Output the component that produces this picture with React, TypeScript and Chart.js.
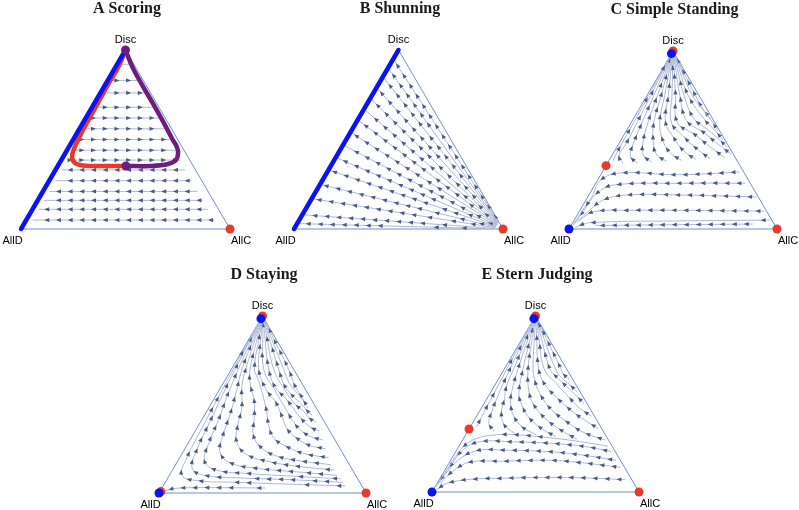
import { useEffect, useRef } from "react";
import { Chart, registerables } from "chart.js";

Chart.register(...registerables);

// A point of the simplex: [share of AllC, share of Disc]; share of AllD = 1 - both.
type Pt = [number, number];

// ---------------- A Scoring ----------------
const scoringStreams: Pt[][] = [
  [[0.01, 0.92], [0.065, 0.92]],
  [[0.015, 0.83], [0.15, 0.83]],
  [[0.02, 0.76], [0.215, 0.76]],
  [[0.02, 0.68], [0.29, 0.68]],
  [[0.025, 0.62], [0.35, 0.62]],
  [[0.025, 0.56], [0.405, 0.56]],
  [[0.03, 0.5], [0.46, 0.5]],
  [[0.03, 0.44], [0.52, 0.44]],
  [[0.03, 0.385], [0.57, 0.385]],
  [[0.62, 0.33], [0.03, 0.33]],
  [[0.68, 0.27], [0.03, 0.27]],
  [[0.74, 0.21], [0.03, 0.21]],
  [[0.79, 0.16], [0.03, 0.16]],
  [[0.84, 0.11], [0.03, 0.11]],
  [[0.9, 0.05], [0.03, 0.05]],
];
const scoringRedOrbit: Pt[] = [
  [0, 1], [0.013, 0.911], [0.013, 0.816], [0.016, 0.715], [0.018, 0.615], [0.022, 0.52],
  [0.03, 0.447], [0.043, 0.402], [0.074, 0.369], [0.12, 0.355], [0.202, 0.352], [0.326, 0.352],
];
const scoringPurpleOrbit: Pt[] = [
  [0, 1], [0.085, 0.9], [0.182, 0.8], [0.282, 0.7], [0.38, 0.6], [0.475, 0.5], [0.517, 0.458],
  [0.539, 0.425], [0.549, 0.385], [0.522, 0.363], [0.441, 0.352], [0.326, 0.352],
];
const scoringBlueEdge: Pt[] = [[0, 0], [0, 1]];
const scoringRedDots: Pt[] = [[1, 0]];
const scoringPurpleDots: Pt[] = [[0, 1], [0.326, 0.352]];

// ---------------- B Shunning ----------------
const shunningStreams: Pt[][] = [
  [[0.96, 0.001], [0.01, 0.03]],
  [[0.96, 0.003], [0.01, 0.079]],
  [[0.96, 0.007], [0.01, 0.168]],
  [[0.96, 0.01], [0.01, 0.247]],
  [[0.96, 0.013], [0.01, 0.327]],
  [[0.96, 0.016], [0.01, 0.396]],
  [[0.96, 0.019], [0.01, 0.465]],
  [[0.96, 0.022], [0.01, 0.535]],
  [[0.96, 0.024], [0.01, 0.604]],
  [[0.96, 0.027], [0.01, 0.663]],
  [[0.96, 0.029], [0.01, 0.723]],
  [[0.96, 0.032], [0.01, 0.782]],
  [[0.96, 0.034], [0.01, 0.842]],
  [[0.96, 0.036], [0.01, 0.891]],
  [[0.96, 0.038], [0.01, 0.94]],
];
const shunningBlueEdge: Pt[] = [[0, 0], [0, 1]];
const shunningRedDots: Pt[] = [[1, 0]];

// ---------------- C Simple Standing ----------------
const simpleStreams: Pt[][] = [
  [[0.02, 0.38], [0.015, 0.45], [0.012, 0.6], [0.008, 0.75], [0.003, 0.9], [0.001, 0.98]],
  [[0.075, 0.37], [0.035, 0.41], [0.035, 0.48], [0.028, 0.6], [0.018, 0.75], [0.007, 0.9], [0.0015, 0.98]],
  [[0.145, 0.37], [0.09, 0.41], [0.07, 0.48], [0.052, 0.6], [0.033, 0.75], [0.013, 0.9], [0.003, 0.98]],
  [[0.21, 0.375], [0.15, 0.415], [0.115, 0.48], [0.08, 0.6], [0.05, 0.75], [0.02, 0.9], [0.004, 0.98]],
  [[0.28, 0.38], [0.21, 0.42], [0.16, 0.49], [0.108, 0.6], [0.068, 0.75], [0.027, 0.9], [0.005, 0.98]],
  [[0.35, 0.385], [0.27, 0.43], [0.2, 0.5], [0.136, 0.6], [0.085, 0.75], [0.034, 0.9], [0.007, 0.98]],
  [[0.415, 0.39], [0.33, 0.44], [0.25, 0.51], [0.164, 0.6], [0.1025, 0.75], [0.041, 0.9], [0.008, 0.98]],
  [[0.48, 0.395], [0.39, 0.45], [0.29, 0.52], [0.192, 0.6], [0.12, 0.75], [0.048, 0.9], [0.01, 0.98]],
  [[0.55, 0.4], [0.45, 0.46], [0.34, 0.53], [0.22, 0.6], [0.1375, 0.75], [0.055, 0.9], [0.011, 0.98]],
  [[0.57, 0.42], [0.48, 0.475], [0.38, 0.54], [0.26, 0.61], [0.158, 0.75], [0.063, 0.9], [0.013, 0.98]],
  [[0.53, 0.46], [0.46, 0.51], [0.37, 0.57], [0.29, 0.62], [0.178, 0.75], [0.071, 0.9], [0.014, 0.98]],
  [[0.49, 0.5], [0.43, 0.55], [0.35, 0.61], [0.198, 0.75], [0.079, 0.9], [0.016, 0.98]],
  [[0.44, 0.55], [0.39, 0.6], [0.32, 0.66], [0.218, 0.75], [0.087, 0.9], [0.017, 0.98]],
  [[0.37, 0.62], [0.3, 0.68], [0.233, 0.75], [0.093, 0.9], [0.019, 0.98]],
  [[0.66, 0.32], [0.37, 0.305], [0.09, 0.315], [0.015, 0.275], [0.02, 0.18], [0.012, 0.09], [0.008, 0.02]],
  [[0.72, 0.257], [0.405, 0.257], [0.09, 0.247], [0.033, 0.2], [0.022, 0.125], [0.012, 0.03]],
  [[0.81, 0.18], [0.44, 0.191], [0.18, 0.191], [0.083, 0.163], [0.047, 0.107], [0.02, 0.04]],
  [[0.89, 0.1], [0.5, 0.105], [0.25, 0.105], [0.07, 0.097], [0.025, 0.05]],
  [[0.94, 0.05], [0.48, 0.045], [0.08, 0.035], [0.025, 0.01]],
  [[0.87, 0.028], [0.49, 0.024], [0.12, 0.02]],
];
const simpleRedDots: Pt[] = [[1, 0], [0, 1], [0, 0.356]];
const simpleBlueDots: Pt[] = [[0, 0], [0, 0.985]];

// ---------------- D Staying ----------------
const stayingStreams: Pt[][] = [
  [[0.5, 0.028], [0.3, 0.03], [0.15, 0.03], [0.06, 0.025], [0.015, 0.008]],
  [[0.88, 0.04], [0.6, 0.05], [0.35, 0.06], [0.15, 0.07], [0.06, 0.1], [0.035, 0.2], [0.025, 0.35], [0.018, 0.5], [0.009, 0.7], [0.003, 0.9], [0.001, 0.97]],
  [[0.86, 0.06], [0.6, 0.075], [0.35, 0.085], [0.17, 0.1], [0.09, 0.14], [0.06, 0.25], [0.045, 0.4], [0.03, 0.55], [0.018, 0.7], [0.006, 0.9], [0.002, 0.97]],
  [[0.84, 0.08], [0.6, 0.095], [0.38, 0.11], [0.21, 0.13], [0.13, 0.18], [0.1, 0.28], [0.08, 0.42], [0.055, 0.55], [0.033, 0.7], [0.011, 0.9], [0.003, 0.97]],
  [[0.81, 0.1], [0.6, 0.12], [0.4, 0.14], [0.26, 0.17], [0.18, 0.23], [0.145, 0.33], [0.12, 0.45], [0.085, 0.58], [0.051, 0.7], [0.017, 0.9], [0.005, 0.97]],
  [[0.78, 0.13], [0.6, 0.15], [0.43, 0.18], [0.31, 0.22], [0.23, 0.29], [0.19, 0.38], [0.16, 0.48], [0.1, 0.6], [0.069, 0.7], [0.023, 0.9], [0.007, 0.97]],
  [[0.75, 0.16], [0.6, 0.18], [0.46, 0.21], [0.36, 0.26], [0.29, 0.33], [0.25, 0.42], [0.2, 0.52], [0.13, 0.62], [0.09, 0.7], [0.03, 0.9], [0.009, 0.97]],
  [[0.72, 0.2], [0.6, 0.22], [0.49, 0.26], [0.4, 0.31], [0.34, 0.38], [0.29, 0.46], [0.22, 0.56], [0.16, 0.64], [0.111, 0.7], [0.037, 0.9], [0.011, 0.97]],
  [[0.68, 0.25], [0.59, 0.27], [0.51, 0.31], [0.44, 0.36], [0.38, 0.43], [0.31, 0.51], [0.22, 0.59], [0.132, 0.7], [0.044, 0.9], [0.013, 0.97]],
  [[0.64, 0.3], [0.57, 0.32], [0.5, 0.36], [0.44, 0.41], [0.37, 0.48], [0.28, 0.57], [0.156, 0.7], [0.052, 0.9], [0.016, 0.97]],
  [[0.6, 0.35], [0.55, 0.37], [0.49, 0.41], [0.43, 0.46], [0.35, 0.53], [0.26, 0.6], [0.18, 0.7], [0.06, 0.9], [0.018, 0.97]],
  [[0.56, 0.4], [0.52, 0.42], [0.47, 0.46], [0.41, 0.5], [0.33, 0.57], [0.204, 0.7], [0.068, 0.9], [0.02, 0.97]],
  [[0.52, 0.44], [0.49, 0.46], [0.44, 0.5], [0.37, 0.55], [0.3, 0.61], [0.228, 0.7], [0.076, 0.9], [0.023, 0.97]],
  [[0.48, 0.48], [0.45, 0.51], [0.39, 0.56], [0.32, 0.62], [0.252, 0.7], [0.084, 0.9], [0.025, 0.97]],
  [[0.44, 0.52], [0.41, 0.55], [0.35, 0.61], [0.276, 0.7], [0.092, 0.9], [0.028, 0.97]],
];
const stayingRedDots: Pt[] = [[1, 0], [0, 1], [0.005, 0.008]];
const stayingBlueDots: Pt[] = [[0, 0], [0, 0.985]];

// ---------------- E Stern Judging ----------------
const sternStreams: Pt[][] = [
  [[0.03, 0.37], [0.025, 0.45], [0.02, 0.55], [0.012, 0.7], [0.004, 0.9], [0.001, 0.97]],
  [[0.13, 0.345], [0.08, 0.39], [0.06, 0.46], [0.045, 0.55], [0.027, 0.7], [0.009, 0.9], [0.003, 0.97]],
  [[0.23, 0.335], [0.16, 0.38], [0.11, 0.45], [0.085, 0.53], [0.06, 0.6], [0.045, 0.7], [0.015, 0.9], [0.005, 0.97]],
  [[0.34, 0.325], [0.25, 0.37], [0.18, 0.43], [0.13, 0.5], [0.1, 0.57], [0.066, 0.7], [0.022, 0.9], [0.007, 0.97]],
  [[0.44, 0.315], [0.35, 0.36], [0.26, 0.42], [0.19, 0.49], [0.14, 0.56], [0.09, 0.7], [0.03, 0.9], [0.009, 0.97]],
  [[0.55, 0.3], [0.45, 0.35], [0.35, 0.41], [0.26, 0.48], [0.19, 0.56], [0.114, 0.7], [0.038, 0.9], [0.011, 0.97]],
  [[0.69, 0.295], [0.56, 0.34], [0.45, 0.4], [0.34, 0.47], [0.25, 0.55], [0.19, 0.62], [0.138, 0.7], [0.046, 0.9], [0.014, 0.97]],
  [[0.625, 0.36], [0.53, 0.41], [0.43, 0.47], [0.33, 0.54], [0.24, 0.61], [0.165, 0.7], [0.055, 0.9], [0.016, 0.97]],
  [[0.555, 0.43], [0.47, 0.48], [0.39, 0.54], [0.3, 0.61], [0.192, 0.7], [0.064, 0.9], [0.019, 0.97]],
  [[0.485, 0.5], [0.42, 0.55], [0.35, 0.6], [0.28, 0.65], [0.219, 0.7], [0.073, 0.9], [0.022, 0.97]],
  [[0.415, 0.57], [0.36, 0.61], [0.3, 0.65], [0.246, 0.7], [0.082, 0.9], [0.025, 0.97]],
  [[0.345, 0.64], [0.3, 0.67], [0.273, 0.7], [0.091, 0.9], [0.027, 0.97]],
  [[0.72, 0.26], [0.55, 0.29], [0.4, 0.31], [0.25, 0.325], [0.15, 0.325], [0.065, 0.305], [0.02, 0.25], [0.01, 0.15], [0.004, 0.05]],
  [[0.75, 0.23], [0.6, 0.26], [0.43, 0.277], [0.25, 0.285], [0.09, 0.286], [0.03, 0.24], [0.015, 0.15], [0.005, 0.05]],
  [[0.8, 0.18], [0.62, 0.21], [0.455, 0.229], [0.25, 0.237], [0.1, 0.235], [0.035, 0.18], [0.015, 0.1], [0.005, 0.03]],
  [[0.84, 0.14], [0.65, 0.165], [0.48, 0.18], [0.25, 0.175], [0.1, 0.17], [0.045, 0.125], [0.015, 0.05]],
  [[0.9, 0.07], [0.7, 0.08], [0.53, 0.083], [0.3, 0.078], [0.15, 0.072], [0.05, 0.05], [0.015, 0.015]],
];
const sternRedDots: Pt[] = [[1, 0], [0, 1], [0, 0.358]];
const sternBlueDots: Pt[] = [[0, 0], [0, 0.985]];

const simplexEdges: Pt[] = [[0, 0], [1, 0], [0, 1], [0, 0]];

// ---------------- styles & layout ----------------
const EDGE = "#6f8fd0";
const STREAM = "#aeb8d3";
const ARROW = "#4a5a86";
const RED = "#e8392b";
const BLUE = "#0a14f2";
const PURPLE = "#6e1c7d";

interface PanelSpec {
  title: string;
  streams: Pt[][];
  spacing: number;
  grid?: { origin: number; step: number };
  thick: { pts: Pt[]; color: string; tension: number }[];
  dots: { pts: Pt[]; color: string }[];
  geo: { x0: number; x1: number; ya: number; yb: number };
}

const panels: PanelSpec[] = [
  {
    title: "A Scoring",
    streams: scoringStreams,
    spacing: 11.7,
    grid: { origin: 0.067, step: 0.056 },
    thick: [
      { pts: scoringBlueEdge, color: BLUE, tension: 0 },
      { pts: scoringRedOrbit, color: RED, tension: 0.4 },
      { pts: scoringPurpleOrbit, color: PURPLE, tension: 0.4 },
    ],
    dots: [
      { pts: scoringRedDots, color: RED },
      { pts: scoringPurpleDots, color: PURPLE },
    ],
    geo: { x0: 21, x1: 230, ya: 50, yb: 229 },
  },
  {
    title: "B Shunning",
    streams: shunningStreams,
    spacing: 12,
    thick: [{ pts: shunningBlueEdge, color: BLUE, tension: 0 }],
    dots: [{ pts: shunningRedDots, color: RED }],
    geo: { x0: 294, x1: 503, ya: 50, yb: 229 },
  },
  {
    title: "C Simple Standing",
    streams: simpleStreams,
    spacing: 12,
    thick: [],
    dots: [
      { pts: simpleRedDots, color: RED },
      { pts: simpleBlueDots, color: BLUE },
    ],
    geo: { x0: 569, x1: 777, ya: 51, yb: 229 },
  },
  {
    title: "D Staying",
    streams: stayingStreams,
    spacing: 12,
    thick: [],
    dots: [
      { pts: stayingRedDots, color: RED },
      { pts: stayingBlueDots, color: BLUE },
    ],
    geo: { x0: 159, x1: 366, ya: 316, yb: 493 },
  },
  {
    title: "E Stern Judging",
    streams: sternStreams,
    spacing: 12,
    thick: [],
    dots: [
      { pts: sternRedDots, color: RED },
      { pts: sternBlueDots, color: BLUE },
    ],
    geo: { x0: 432, x1: 639, ya: 316, yb: 492 },
  },
];

const toXY = (p: Pt) => ({ x: p[0] + p[1] / 2, y: p[1] });

// ---------------- plugins ----------------
const arrowPlugin = {
  id: "streamArrows",
  beforeDatasetsDraw(chart: any) {
    chart.$arrowSpots = [];
  },
  afterDatasetDraw(chart: any, args: any) {
    const ds = chart.data.datasets[args.index];
    if (!ds.isStream) return;
    const meta = args.meta;
    if (meta.dataset && meta.dataset.updateControlPoints) {
      meta.dataset.updateControlPoints(chart.chartArea, "x");
    }
    const pts = meta.data as any[];
    if (!pts || pts.length < 2) return;
    const samp: number[][] = [];
    const N = 24;
    for (let i = 0; i < pts.length - 1; i++) {
      const p = pts[i];
      const q = pts[i + 1];
      const cp = p.cp2x != null && q.cp1x != null && ds.tension > 0;
      for (let s = i === 0 ? 0 : 1; s <= N; s++) {
        const t = s / N;
        const m = 1 - t;
        let xx: number;
        let yy: number;
        if (cp) {
          xx = m * m * m * p.x + 3 * m * m * t * p.cp2x + 3 * m * t * t * q.cp1x + t * t * t * q.x;
          yy = m * m * m * p.y + 3 * m * m * t * p.cp2y + 3 * m * t * t * q.cp1y + t * t * t * q.y;
        } else {
          xx = p.x + (q.x - p.x) * t;
          yy = p.y + (q.y - p.y) * t;
        }
        samp.push([xx, yy]);
      }
    }
    let total = 0;
    for (let i = 1; i < samp.length; i++) {
      total += Math.hypot(samp[i][0] - samp[i - 1][0], samp[i][1] - samp[i - 1][1]);
    }
    const spacing = ds.arrowSpacing as number;
    let next = spacing * 0.55;
    if (ds.arrowGrid) {
      // straight rows: put arrow heads on a common column grid
      const xs = chart.scales.x;
      const gx0 = xs.getPixelForValue(ds.arrowGrid.origin);
      const step = xs.getPixelForValue(ds.arrowGrid.origin + ds.arrowGrid.step) - gx0;
      const sx = samp[0][0];
      const dir = samp[samp.length - 1][0] >= sx ? 1 : -1;
      const rel = dir > 0 ? gx0 - sx : sx - gx0;
      next = ((rel % step) + step) % step;
      if (next < 2) next += step;
    }
    const spots: number[][] = chart.$arrowSpots;
    const ctx = chart.ctx as CanvasRenderingContext2D;
    ctx.save();
    ctx.fillStyle = ARROW;
    let acc = 0;
    for (let i = 1; i < samp.length; i++) {
      const [xa, ya] = samp[i - 1];
      const [xb, yb] = samp[i];
      const seg = Math.hypot(xb - xa, yb - ya);
      if (seg <= 0) continue;
      while (acc + seg >= next && next < total - 3) {
        const t = (next - acc) / seg;
        const ax = xa + (xb - xa) * t;
        const ay = ya + (yb - ya) * t;
        const crowded = spots.some(([bx, by]) => (bx - ax) * (bx - ax) + (by - ay) * (by - ay) < 64);
        if (crowded && !ds.arrowGrid) {
          next += 2;
          continue;
        }
        spots.push([ax, ay]);
        const ang = Math.atan2(yb - ya, xb - xa);
        const L = 5;
        const hw = 2.1;
        const c = Math.cos(ang);
        const s = Math.sin(ang);
        ctx.beginPath();
        ctx.moveTo(ax + c * L * 0.5, ay + s * L * 0.5);
        ctx.lineTo(ax - c * L * 0.5 - s * hw, ay - s * L * 0.5 + c * hw);
        ctx.lineTo(ax - c * L * 0.5 + s * hw, ay - s * L * 0.5 - c * hw);
        ctx.closePath();
        ctx.fill();
        next += spacing;
      }
      acc += seg;
    }
    ctx.restore();
  },
};

const labelPlugin = {
  id: "simplexLabels",
  afterDraw(chart: any, _args: any, opts: any) {
    const { ctx, scales } = chart;
    const px = (p: Pt) => [scales.x.getPixelForValue(p[0] + p[1] / 2), scales.y.getPixelForValue(p[1])];
    const [tx, ty] = px([0, 1]);
    const [lx, ly] = px([0, 0]);
    const [rx, ry] = px([1, 0]);
    ctx.save();
    ctx.textAlign = "center";
    ctx.textBaseline = "alphabetic";
    ctx.fillStyle = "#1a1a1a";
    ctx.font = 'bold 16px "Liberation Serif"';
    ctx.fillText(opts.title, tx + 1.5, ty - 37);
    ctx.fillStyle = "#000";
    ctx.font = '11px "Liberation Sans"';
    ctx.fillText("Disc", tx, ty - 7);
    ctx.fillText("AllD", lx - 8.5, ly + 15);
    ctx.fillText("AllC", rx + 11, ry + 15);
    ctx.restore();
  },
};

const PADX = 45;
const PADT = 50;
const PADB = 22;

function SimplexPanel({ spec }: { spec: PanelSpec }) {
  const ref = useRef<HTMLCanvasElement | null>(null);
  const W = spec.geo.x1 - spec.geo.x0;
  const H = spec.geo.yb - spec.geo.ya;
  const cw = W + 2 * PADX;
  const ch = H + PADT + PADB;

  useEffect(() => {
    const datasets: any[] = [];
    datasets.push({
      data: simplexEdges.map(toXY),
      showLine: true,
      borderColor: EDGE,
      borderWidth: 1,
      pointRadius: 0,
      tension: 0,
      order: 9,
    });
    spec.streams.forEach((s) => {
      datasets.push({
        data: s.map(toXY),
        showLine: true,
        borderColor: STREAM,
        borderWidth: 1,
        pointRadius: 0,
        tension: 0.4,
        order: 6,
        isStream: true,
        arrowSpacing: spec.spacing,
        arrowGrid: spec.grid,
      });
    });
    spec.thick.forEach((t) => {
      datasets.push({
        data: t.pts.map(toXY),
        showLine: true,
        borderColor: t.color,
        borderWidth: 4.5,
        borderCapStyle: "round",
        borderJoinStyle: "round",
        pointRadius: 0,
        tension: t.tension,
        order: 3,
      });
    });
    spec.dots.forEach((d, i) => {
      datasets.push({
        data: d.pts.map(toXY),
        showLine: false,
        pointRadius: 4.5,
        pointBackgroundColor: d.color,
        pointBorderWidth: 0,
        pointBorderColor: d.color,
        order: 2 - i,
      });
    });

    const chart = new Chart(ref.current as HTMLCanvasElement, {
      type: "scatter",
      data: { datasets },
      options: {
        responsive: false,
        maintainAspectRatio: false,
        animation: false,
        events: [],
        layout: { padding: 0, autoPadding: false },
        plugins: {
          legend: { display: false },
          tooltip: { enabled: false },
          simplexLabels: { title: spec.title },
        } as any,
        scales: {
          x: { type: "linear", display: false, min: -PADX / W, max: 1 + PADX / W },
          y: { type: "linear", display: false, min: -PADB / H, max: 1 + PADT / H },
        },
      },
      plugins: [arrowPlugin, labelPlugin],
    });
    return () => chart.destroy();
  }, [spec]);

  return (
    <canvas
      ref={ref}
      width={cw}
      height={ch}
      style={{ position: "absolute", left: spec.geo.x0 - PADX, top: spec.geo.ya - PADT, width: cw, height: ch }}
    />
  );
}

export default function App() {
  return (
    <div style={{ position: "absolute", left: 0, top: 0, width: 799, height: 510, background: "#fff", overflow: "hidden" }}>
      {panels.map((p) => (
        <SimplexPanel key={p.title} spec={p} />
      ))}
    </div>
  );
}
